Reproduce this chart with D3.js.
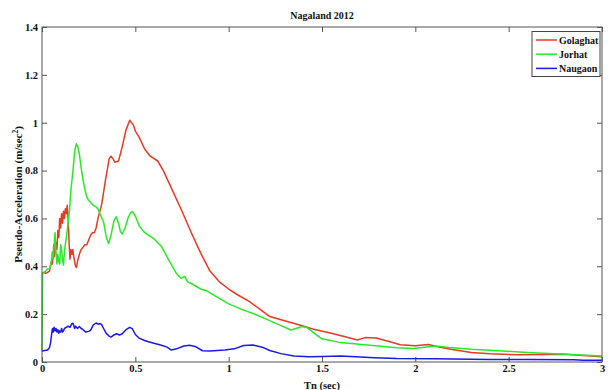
<!DOCTYPE html>
<html><head><meta charset="utf-8">
<script src="https://cdn.jsdelivr.net/npm/d3@7"></script>
<style>body{margin:0;background:#fff}svg{display:block}text{font-family:"Liberation Serif","Times New Roman",serif;font-weight:bold;fill:#111}</style>
</head><body><svg id="c" width="608" height="390"></svg>
<script>
const title = "Nagaland 2012";
const xLabel = "Tn (sec)";
const seriesNames = ["Golaghat", "Jorhat", "Naugaon"];
const seriesColors = ["#e33b24", "#2ce62c", "#1a1ae8"];
const xTicks = [0, 0.5, 1, 1.5, 2, 2.5, 3];
const yTicks = [0, 0.2, 0.4, 0.6, 0.8, 1, 1.2, 1.4];

const golaghat = [[0,0.37],[0.01,0.375],[0.02,0.37],[0.03,0.375],[0.04,0.38],[0.045,0.40],[0.05,0.42],[0.055,0.41],[0.06,0.45],[0.063,0.49],[0.066,0.44],[0.07,0.46],[0.075,0.50],[0.08,0.47],[0.085,0.55],[0.09,0.52],[0.095,0.60],[0.10,0.56],[0.105,0.62],[0.11,0.58],[0.115,0.63],[0.12,0.60],[0.125,0.64],[0.13,0.62],[0.135,0.655],[0.14,0.60],[0.145,0.50],[0.15,0.43],[0.155,0.47],[0.16,0.45],[0.165,0.47],[0.17,0.44],[0.18,0.40],[0.185,0.395],[0.19,0.42],[0.20,0.45],[0.21,0.47],[0.22,0.48],[0.23,0.49],[0.24,0.49],[0.25,0.51],[0.26,0.53],[0.27,0.54],[0.28,0.54],[0.29,0.56],[0.30,0.60],[0.32,0.66],[0.34,0.76],[0.36,0.85],[0.37,0.86],[0.38,0.85],[0.39,0.835],[0.41,0.84],[0.43,0.90],[0.45,0.97],[0.47,1.01],[0.49,0.99],[0.50,0.965],[0.52,0.94],[0.55,0.89],[0.58,0.86],[0.62,0.84],[0.65,0.80],[0.70,0.715],[0.75,0.63],[0.80,0.54],[0.85,0.455],[0.90,0.38],[0.95,0.335],[1.0,0.305],[1.05,0.28],[1.11,0.253],[1.16,0.225],[1.22,0.19],[1.30,0.172],[1.38,0.155],[1.45,0.138],[1.55,0.12],[1.65,0.10],[1.69,0.092],[1.73,0.102],[1.79,0.10],[1.85,0.088],[1.92,0.072],[2.0,0.068],[2.07,0.073],[2.12,0.064],[2.19,0.053],[2.3,0.04],[2.4,0.034],[2.55,0.03],[2.7,0.031],[2.8,0.032],[2.9,0.027],[3.0,0.022]];

const jorhat = [[0,0.045],[0.003,0.37],[0.01,0.375],[0.02,0.38],[0.03,0.39],[0.04,0.39],[0.045,0.40],[0.05,0.42],[0.055,0.46],[0.06,0.43],[0.065,0.49],[0.07,0.54],[0.075,0.46],[0.08,0.41],[0.085,0.45],[0.09,0.42],[0.095,0.41],[0.10,0.49],[0.105,0.47],[0.11,0.43],[0.115,0.405],[0.12,0.46],[0.13,0.52],[0.14,0.58],[0.148,0.64],[0.155,0.72],[0.166,0.80],[0.175,0.88],[0.184,0.912],[0.192,0.90],[0.20,0.87],[0.21,0.81],[0.22,0.76],[0.23,0.72],[0.24,0.69],[0.25,0.675],[0.26,0.668],[0.273,0.656],[0.29,0.648],[0.30,0.64],[0.31,0.62],[0.33,0.585],[0.345,0.52],[0.357,0.495],[0.37,0.53],[0.385,0.59],[0.397,0.607],[0.41,0.58],[0.42,0.545],[0.43,0.535],[0.445,0.56],[0.46,0.60],[0.475,0.625],[0.485,0.628],[0.50,0.61],[0.52,0.57],[0.545,0.545],[0.57,0.53],[0.6,0.515],[0.64,0.483],[0.68,0.425],[0.72,0.37],[0.745,0.35],[0.765,0.358],[0.78,0.335],[0.8,0.328],[0.85,0.305],[0.88,0.298],[0.93,0.275],[1.0,0.243],[1.07,0.22],[1.13,0.203],[1.22,0.173],[1.28,0.152],[1.335,0.134],[1.36,0.14],[1.39,0.148],[1.42,0.144],[1.46,0.12],[1.5,0.097],[1.6,0.081],[1.7,0.074],[1.8,0.067],[1.9,0.06],[1.99,0.056],[2.05,0.062],[2.11,0.067],[2.18,0.061],[2.3,0.053],[2.45,0.047],[2.6,0.04],[2.8,0.032],[3.0,0.025]];

const naugaon = [[0,0.046],[0.03,0.05],[0.04,0.06],[0.046,0.08],[0.052,0.12],[0.056,0.14],[0.06,0.125],[0.065,0.145],[0.07,0.13],[0.075,0.14],[0.08,0.125],[0.085,0.135],[0.09,0.12],[0.095,0.13],[0.10,0.125],[0.105,0.14],[0.11,0.125],[0.115,0.13],[0.12,0.14],[0.13,0.145],[0.14,0.15],[0.15,0.145],[0.16,0.16],[0.166,0.162],[0.175,0.14],[0.18,0.15],[0.19,0.14],[0.20,0.148],[0.21,0.14],[0.22,0.135],[0.235,0.125],[0.25,0.128],[0.26,0.132],[0.275,0.155],[0.29,0.163],[0.30,0.158],[0.31,0.16],[0.318,0.158],[0.33,0.14],[0.344,0.12],[0.36,0.108],[0.37,0.104],[0.385,0.113],[0.40,0.118],[0.415,0.113],[0.43,0.118],[0.45,0.135],[0.47,0.145],[0.485,0.138],[0.50,0.115],[0.52,0.1],[0.55,0.09],[0.57,0.085],[0.6,0.078],[0.64,0.07],[0.67,0.062],[0.693,0.05],[0.72,0.055],[0.76,0.067],[0.79,0.07],[0.82,0.065],[0.86,0.047],[0.9,0.046],[0.98,0.05],[1.03,0.055],[1.08,0.069],[1.13,0.071],[1.18,0.062],[1.22,0.048],[1.28,0.035],[1.35,0.025],[1.43,0.022],[1.5,0.023],[1.6,0.025],[1.68,0.022],[1.78,0.018],[1.9,0.015],[2.1,0.014],[2.3,0.011],[2.4,0.01],[2.6,0.01],[2.85,0.009],[2.9,0.007],[3.0,0.007]];

const series = [golaghat, jorhat, naugaon];

const svg = d3.select("#c");
const L = 42, R = 602, T = 27, B = 362;
const x = d3.scaleLinear().domain([0, 3]).range([L, R]);
const y = d3.scaleLinear().domain([0, 1.4]).range([B, T]);

const fmt = d => d3.format("~g")(d);
const axisCol = "#555";
function styleAxis(g, showText) {
  g.select(".domain").remove();
  g.selectAll("line").attr("stroke", axisCol).attr("stroke-width", 1);
  if (showText) g.selectAll("text").style("font-size", "10.5px").attr("fill", "#111");
  else g.selectAll("text").remove();
}
svg.append("g").attr("transform", `translate(0,${B})`)
  .call(d3.axisBottom(x).tickValues(xTicks).tickFormat(fmt).tickSizeInner(-5).tickSizeOuter(0).tickPadding(3))
  .call(g => styleAxis(g, true));
svg.append("g").attr("transform", `translate(0,${T})`)
  .call(d3.axisTop(x).tickValues(xTicks).tickFormat("").tickSizeInner(-5).tickSizeOuter(0))
  .call(g => styleAxis(g, false));
svg.append("g").attr("transform", `translate(${L},0)`)
  .call(d3.axisLeft(y).tickValues(yTicks).tickFormat(fmt).tickSizeInner(-5).tickSizeOuter(0).tickPadding(4))
  .call(g => styleAxis(g, true));
svg.append("g").attr("transform", `translate(${R},0)`)
  .call(d3.axisRight(y).tickValues(yTicks).tickFormat("").tickSizeInner(-5).tickSizeOuter(0))
  .call(g => styleAxis(g, false));

// lines
const line = d3.line().x(d => x(d[0])).y(d => y(d[1]));
series.forEach((s, i) => {
  svg.append("path").datum(s).attr("d", line).attr("fill", "none")
    .attr("stroke", seriesColors[i]).attr("stroke-width", 1.5).attr("stroke-linejoin", "round");
});

// frame
svg.append("rect").attr("x", L).attr("y", T).attr("width", R - L).attr("height", B - T)
  .attr("fill", "none").attr("stroke", axisCol).attr("stroke-width", 1);

// title and labels
svg.append("text").attr("x", (L + R) / 2).attr("y", 19).attr("text-anchor", "middle")
  .style("font-size", "10px").text(title);
svg.append("text").attr("x", (L + R) / 2).attr("y", 388.5).attr("text-anchor", "middle")
  .style("font-size", "10.5px").text(xLabel);
const yl = svg.append("text").attr("transform", `translate(22,${(T + B) / 2}) rotate(-90)`)
  .attr("text-anchor", "middle").style("font-size", "11px");
yl.append("tspan").text("Pseudo-Acceleration (m/sec");
yl.append("tspan").attr("dy", -4).style("font-size", "7.5px").text("2");
yl.append("tspan").attr("dy", 4).text(")");

// legend
const lg = svg.append("g");
lg.append("rect").attr("x", 532).attr("y", 31.5).attr("width", 68).attr("height", 45)
  .attr("fill", "#fff").attr("stroke", "#444").attr("stroke-width", 1);
seriesNames.forEach((n, i) => {
  const yy = 40 + i * 14.2;
  lg.append("line").attr("x1", 536).attr("x2", 557).attr("y1", yy).attr("y2", yy)
    .attr("stroke", seriesColors[i]).attr("stroke-width", 1.5);
  lg.append("text").attr("x", 559).attr("y", yy + 3.5).style("font-size", "10px").text(n);
});
</script></body></html>
